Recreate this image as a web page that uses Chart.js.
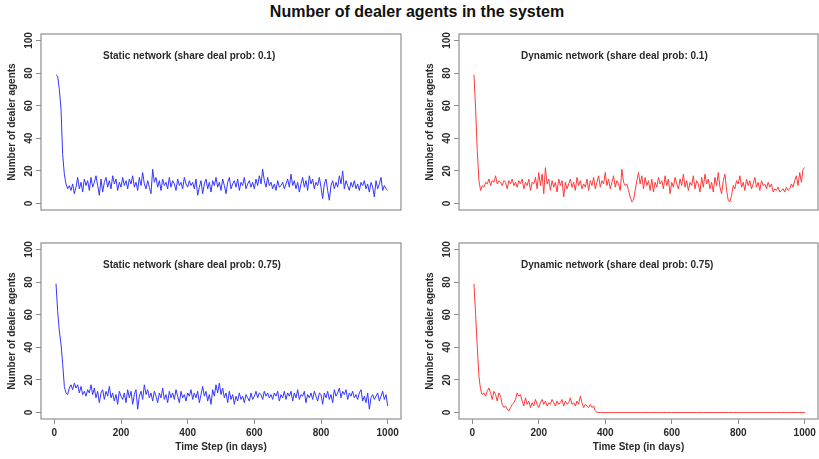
<!DOCTYPE html>
<html>
<head>
<meta charset="utf-8">
<script src="https://cdn.jsdelivr.net/npm/chart.js@4.4.1/dist/chart.umd.min.js"></script>
<style>
  body { margin: 0; background: #fff; width: 819px; height: 459px; position: relative; overflow: hidden;
         font-family: "Liberation Sans", Arial, sans-serif; }
  #title { position: absolute; top: 3px; left: 417px; transform: translateX(-50%); font-size: 16px;
           line-height: 18px; font-weight: bold; color: #111; white-space: nowrap; }
  canvas { position: absolute; }
</style>
</head>
<body>
<div id="title">Number of dealer agents in the system</div>
<canvas id="staticLowChart" width="410" height="194" style="left:0;top:26px"></canvas>
<canvas id="dynamicLowChart" width="401" height="194" style="left:418px;top:26px"></canvas>
<canvas id="staticHighChart" width="410" height="224" style="left:0;top:235px"></canvas>
<canvas id="dynamicHighChart" width="401" height="224" style="left:418px;top:235px"></canvas>
<script>
// time steps (one reading every 5 days)
const days = Array.from({length: 200}, (_, i) => (i + 1) * 5);
const xTicks = [0, 200, 400, 600, 800, 1000];
const yTicks = [0, 20, 40, 60, 80, 100];

// Static network, share deal prob 0.1
const staticLow = [
    79, 78, 70, 58, 30, 18, 12, 9,
    11, 8, 12, 6, 10, 16, 9, 13, 7, 15,
    11, 14, 8, 16, 10, 13, 17, 11, 5, 15,
    7, 13, 16, 10, 14, 9, 17, 12, 15, 8,
    13, 10, 16, 11, 14, 9, 15, 12, 17, 10,
    13, 8, 16, 11, 19, 12, 9, 14, 10, 6,
    21, 13, 16, 10, 14, 8, 15, 11, 13, 9,
    16, 10, 14, 12, 8, 15, 11, 13, 9, 16,
    12, 10, 14, 11, 13, 9, 15, 5, 10, 14,
    6, 12, 15, 9, 13, 7, 14, 11, 16, 10,
    13, 8, 15, 11, 6, 13, 16, 9, 12, 14,
    10, 15, 8, 13, 11, 16, 9, 12, 14, 10,
    13, 9, 15, 11, 17, 12, 21, 14, 10, 16,
    11, 13, 9, 12, 8, 14, 10, 11, 13, 9,
    12, 15, 10, 18, 11, 14, 9, 13, 7, 12,
    16, 10, 14, 8, 17, 12, 15, 9, 13, 11,
    16, 10, 3, 12, 15, 8, 2, 11, 14, 9,
    13, 10, 17, 12, 20, 9, 14, 11, 8, 13,
    10, 14, 9, 12, 8, 13, 11, 14, 9, 12,
    7, 13, 10, 4, 14, 9, 12, 16, 8, 11,
    9, 8
];

// Dynamic network, share deal prob 0.1
const dynamicLow = [
    79, 58, 32, 14, 8, 11, 10, 13, 12, 15,
    11, 14, 13, 17, 12, 14, 13, 11, 14, 13,
    9, 14, 12, 15, 11, 13, 10, 14, 12, 15,
    9, 13, 11, 15, 8, 13, 12, 16, 9, 19,
    11, 18, 6, 22, 12, 15, 8, 14, 10, 13,
    7, 15, 11, 14, 4, 13, 9, 12, 15, 10,
    13, 8, 16, 11, 14, 9, 12, 10, 15, 8,
    14, 11, 16, 9, 13, 17, 10, 14, 12, 19,
    11, 15, 9, 13, 17, 10, 14, 12, 8, 21,
    13, 11, 12, 8, 4, 1, 2, 8, 14, 19,
    12, 17, 9, 16, 11, 14, 8, 15, 7, 13,
    10, 16, 12, 14, 9, 17, 11, 15, 6, 13,
    10, 16, 12, 9, 15, 11, 18, 10, 14, 8,
    13, 11, 17, 9, 14, 12, 7, 16, 10, 18,
    12, 15, 9, 13, 7, 16, 11, 19, 10, 6,
    14, 18, 8, 2, 1, 5, 11, 9, 14, 12,
    17, 10, 13, 8, 15, 11, 14, 9, 12, 16,
    10, 13, 8, 14, 11, 12, 9, 13, 10, 12,
    7, 9, 8, 10, 7, 8, 9, 7, 10, 8,
    9, 12, 10, 14, 17, 11, 19, 13, 21, 22
];

// Static network, share deal prob 0.75
const staticHigh = [
    79, 62, 50, 42, 30, 16, 12, 11, 15, 17,
    14, 18, 15, 17, 12, 16, 11, 13, 10, 14,
    12, 17, 11, 15, 9, 13, 6, 12, 14, 8,
    13, 10, 16, 9, 12, 7, 11, 5, 13, 10,
    8, 12, 6, 14, 9, 13, 5, 11, 14, 2,
    10, 13, 8, 17, 11, 14, 9, 12, 7, 13,
    10, 6, 12, 9, 15, 8, 11, 6, 13, 9,
    12, 8, 14, 10, 6, 13, 9, 11, 7, 12,
    10, 14, 8, 12, 9, 13, 6, 11, 16, 10,
    13, 7, 11, 5, 14, 10, 17, 12, 18, 11,
    15, 9, 12, 6, 13, 8, 11, 5, 10, 7,
    12, 8, 10, 6, 11, 9, 7, 12, 8, 10,
    13, 9, 12, 11, 8, 13, 10, 12, 9, 11,
    8, 12, 10, 13, 7, 11, 9, 13, 8, 12,
    10, 13, 7, 12, 9, 14, 8, 11, 10, 13,
    6, 11, 9, 12, 8, 13, 10, 7, 12, 11,
    5, 12, 9, 13, 8, 11, 6, 14, 10, 12,
    15, 9, 13, 11, 14, 8, 12, 10, 13, 9,
    11, 8, 12, 14, 7, 10, 6, 12, 2, 9,
    11, 8, 10, 12, 7, 10, 13, 8, 11, 4
];

// Dynamic network, share deal prob 0.75 (dies out around day 375)
const dynamicHigh = [
    79, 60, 40, 22, 14, 11, 12, 10, 13, 15,
    12, 8, 13, 11, 7, 12, 10, 5, 3, 4,
    2, 1, 3, 5, 6, 8, 12, 10, 11, 7,
    4, 9, 5, 7, 3, 6, 4, 8, 5, 3,
    6, 8, 5, 7, 4, 6, 5, 8, 6, 4,
    7, 5, 6, 8, 4, 7, 5, 6, 9, 5,
    6, 4, 7, 5, 10, 6, 3, 5, 4, 3,
    5, 3, 4, 1, 0, 0, 0, 0, 0, 0,
    0, 0, 0, 0, 0, 0, 0, 0, 0, 0,
    0, 0, 0, 0, 0, 0, 0, 0, 0, 0,
    0, 0, 0, 0, 0, 0, 0, 0, 0, 0,
    0, 0, 0, 0, 0, 0, 0, 0, 0, 0,
    0, 0, 0, 0, 0, 0, 0, 0, 0, 0,
    0, 0, 0, 0, 0, 0, 0, 0, 0, 0,
    0, 0, 0, 0, 0, 0, 0, 0, 0, 0,
    0, 0, 0, 0, 0, 0, 0, 0, 0, 0,
    0, 0, 0, 0, 0, 0, 0, 0, 0, 0,
    0, 0, 0, 0, 0, 0, 0, 0, 0, 0,
    0, 0, 0, 0, 0, 0, 0, 0, 0, 0,
    0, 0, 0, 0, 0, 0, 0, 0, 0, 0
];

const boxColor = '#8f8f8f';
const textColor = '#2a2a2a';
const fontFamily = '"Liberation Sans", Arial, sans-serif';

// box around the plot area, the rotated y tick labels (R style) and the panel caption
const panelBox = {
    id: 'panelBox',
    afterDraw(chart, args, opts) {
        const {ctx, chartArea: a} = chart;
        const yScale = chart.scales.y;
        ctx.save();
        ctx.strokeStyle = boxColor;
        ctx.lineWidth = 1.2;
        ctx.strokeRect(a.left, a.top, a.right - a.left, a.bottom - a.top);

        ctx.font = 'bold 10px ' + fontFamily;
        ctx.fillStyle = textColor;
        ctx.textAlign = 'center';
        ctx.textBaseline = 'bottom';
        yScale.ticks.forEach(t => {
            ctx.save();
            ctx.translate(a.left - 7, yScale.getPixelForValue(t.value));
            ctx.rotate(-Math.PI / 2);
            ctx.fillText(String(t.value), 0, 0);
            ctx.restore();
        });

        ctx.textAlign = 'left';
        ctx.textBaseline = 'middle';
        ctx.fillText(opts.text, a.left + 62, a.top + 22);
        ctx.restore();
    }
};

function makePanel(id, values, color, caption, showX, rightPad) {
    const tickFont = {family: fontFamily, size: 10, weight: 'bold'};
    new Chart(document.getElementById(id), {
        type: 'line',
        data: {
            labels: days,
            datasets: [{
                data: values,
                borderColor: color,
                borderWidth: 1,
                pointRadius: 0,
                tension: 0,
                fill: false
            }]
        },
        plugins: [panelBox],
        options: {
            responsive: false,
            animation: false,
            devicePixelRatio: 1,
            layout: {padding: {top: 8, right: rightPad, bottom: showX ? 0 : 10, left: 0}},
            plugins: {
                legend: {display: false},
                tooltip: {enabled: false},
                panelBox: {text: caption}
            },
            scales: {
                x: {
                    type: 'linear',
                    min: -40,
                    max: 1040,
                    display: showX,
                    afterBuildTicks: s => { s.ticks = xTicks.map(v => ({value: v})); },
                    afterFit: s => { if (showX) s.height = 40; },
                    grid: {drawOnChartArea: false, drawTicks: true, tickLength: 5, color: boxColor},
                    border: {display: false},
                    ticks: {font: tickFont, color: textColor, padding: 3, maxRotation: 0, autoSkip: false,
                            callback: v => String(v)},
                    title: {display: true, text: 'Time Step (in days)', font: tickFont, color: textColor,
                            padding: {top: 0, bottom: 6}}
                },
                y: {
                    min: -4,
                    max: 104,
                    afterBuildTicks: s => { s.ticks = yTicks.map(v => ({value: v})); },
                    afterFit: s => { s.width = 41; },
                    grid: {drawOnChartArea: false, drawTicks: true, tickLength: 5, color: boxColor},
                    border: {display: false},
                    ticks: {display: false},
                    title: {display: true, text: 'Number of dealer agents', font: tickFont, color: textColor,
                            padding: {top: 6, bottom: 0}}
                }
            }
        }
    });
}

document.addEventListener('DOMContentLoaded', function() {
    makePanel('staticLowChart', staticLow, '#3535ff', 'Static network (share deal prob: 0.1)', false, 9);
    makePanel('dynamicLowChart', dynamicLow, '#ff3a3a', 'Dynamic network (share deal prob: 0.1)', false, 1);
    makePanel('staticHighChart', staticHigh, '#3535ff', 'Static network (share deal prob: 0.75)', true, 9);
    makePanel('dynamicHighChart', dynamicHigh, '#ff3a3a', 'Dynamic network (share deal prob: 0.75)', true, 1);
});
</script>
</body>
</html>
